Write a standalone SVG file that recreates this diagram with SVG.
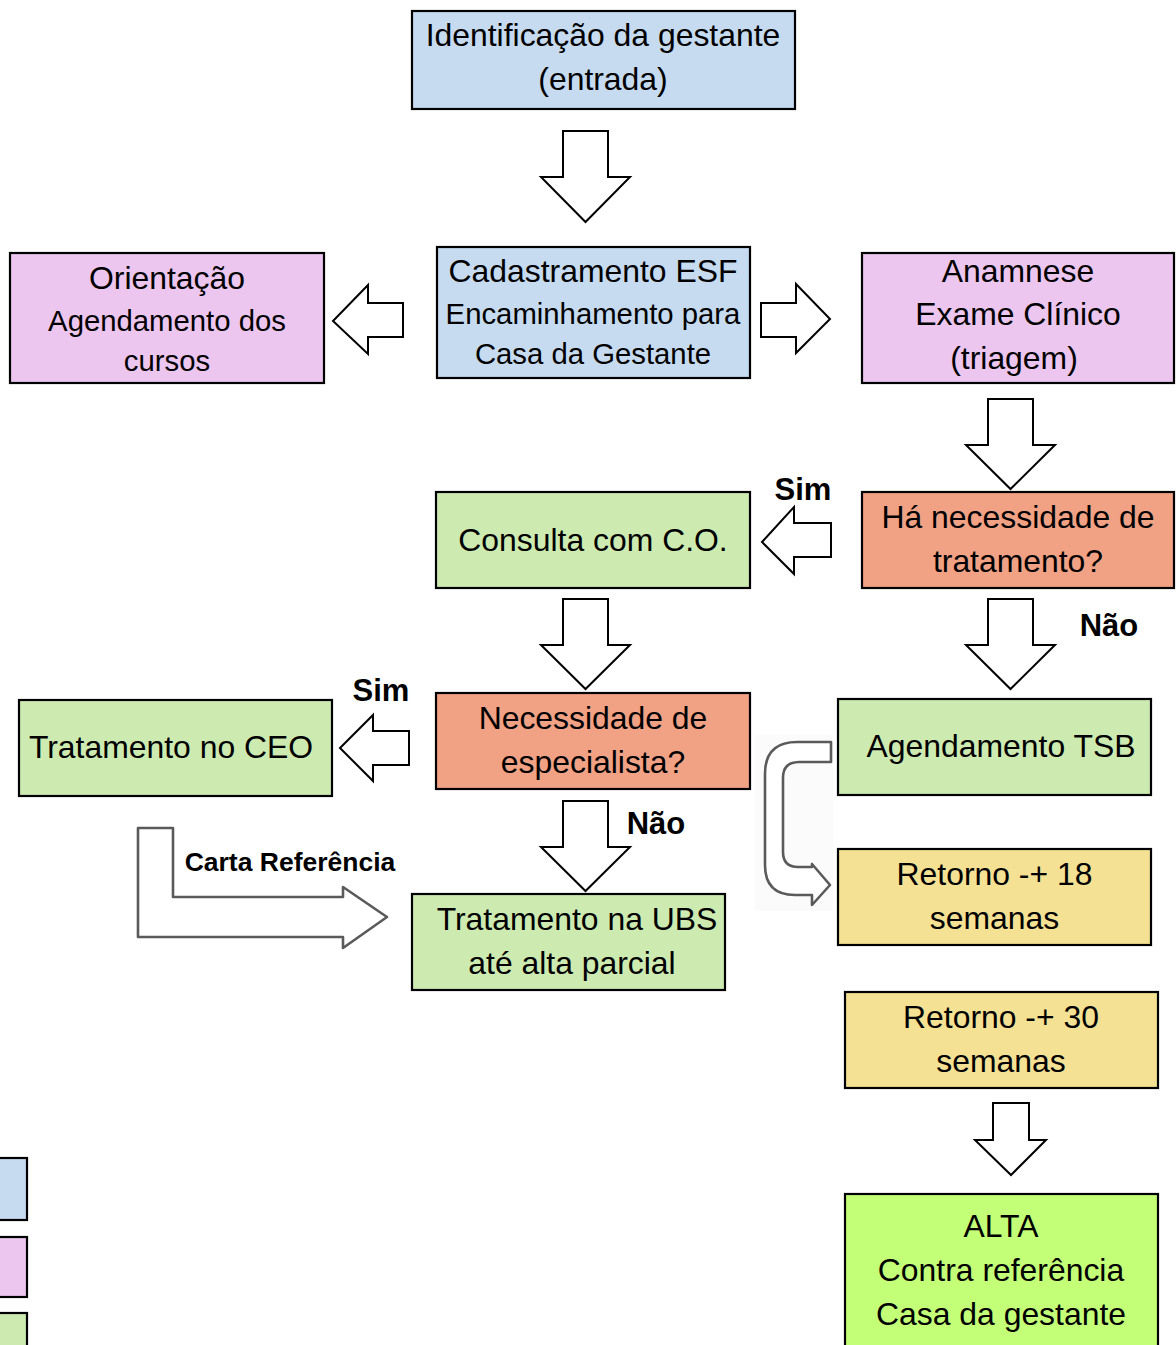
<svg xmlns="http://www.w3.org/2000/svg" width="1176" height="1345" viewBox="0 0 1176 1345">
<defs>
<style>
.box{stroke:#000;stroke-width:2.2}
.blue{fill:#c6dbf0}
.pink{fill:#ecc6ef}
.green{fill:#cdebb0}
.salmon{fill:#f1a184}
.yellow{fill:#f4e193}
.alta{fill:#c3ff77}
.arr{fill:#fff;stroke:#000;stroke-width:2;stroke-linejoin:miter}
.garr{fill:#fff;stroke:#5a5a5a;stroke-width:2.6;stroke-linejoin:round}
text{font-family:"Liberation Sans",Arial,sans-serif;fill:#000;text-anchor:middle}
.t{font-size:31.9px}
.s{font-size:29.3px}
.b{font-size:31px;font-weight:bold}
.c{font-size:26.5px;font-weight:bold}
</style>
<filter id="blur" x="-10%" y="-10%" width="120%" height="120%"><feGaussianBlur stdDeviation="0.7"/></filter>
</defs>

<g id="connectors">
<path class="arr" d="M563,131 L608,131 L608,177 L630,177 L585.5,222 L541,177 L563,177 Z"/>
<path class="arr" d="M403,303 L403,337 L368,337 L368,354 L333,321 L368,285 L368,303 Z"/>
<path class="arr" d="M761,303 L796,303 L796,284 L830,319 L796,353 L796,337 L761,337 Z"/>
<path class="arr" d="M988,399 L1033,399 L1033,445 L1055,445 L1010.5,489 L966,445 L988,445 Z"/>
<path class="arr" d="M831,523 L831,557 L794,557 L794,574 L762,542 L794,507 L794,523 Z"/>
<path class="arr" d="M563,599 L608,599 L608,645 L630,645 L585.5,689 L541,645 L563,645 Z"/>
<path class="arr" d="M988,599 L1033,599 L1033,645 L1055,645 L1010.5,689 L966,645 L988,645 Z"/>
<path class="arr" d="M409,731 L409,765 L373,765 L373,781 L340,748 L373,715 L373,731 Z"/>
<path class="arr" d="M563,801 L608,801 L608,847 L630,847 L585.5,891 L541,847 L563,847 Z"/>
<path class="arr" d="M993,1103 L1029,1103 L1029,1140 L1046,1140 L1011,1175 L975,1140 L993,1140 Z"/>
<rect x="755" y="735" width="78" height="176" fill="#fbfbfb"/>
<path class="garr" filter="url(#blur)" d="M831,742 L797,742 Q765,742 765,774 L765,865 Q765,895 795,895 L812,895 L812,905 L830,885 L812,864 L812,867 L798,867 Q783,867 783,852 L783,778 Q783,762 799,762 L831,762 Z"/>
<path class="garr" filter="url(#blur)" d="M138,828 L173,828 L173,897 L343,897 L343,887 L387,917 L343,948 L343,937 L138,937 Z"/>
<text class="c" x="290" y="871">Carta Referência</text>
<text class="b" x="803" y="500">Sim</text>
<text class="b" x="1109" y="636">Não</text>
<text class="b" x="381" y="701">Sim</text>
<text class="b" x="656" y="834">Não</text>
</g>

<g id="n1"><rect class="box blue" x="412" y="11" width="383" height="98"/>
<text class="t" x="603" y="46">Identificação da gestante</text>
<text class="t" x="603" y="90">(entrada)</text></g>

<g id="n2"><rect class="box pink" x="10" y="253" width="314" height="130"/>
<text class="t" x="167" y="289">Orientação</text>
<text class="s" x="167" y="331">Agendamento dos</text>
<text class="s" x="167" y="371">cursos</text></g>

<g id="n3"><rect class="box blue" x="437" y="247" width="313" height="131"/>
<text class="t" x="593" y="282">Cadastramento ESF</text>
<text class="s" x="593" y="324">Encaminhamento para</text>
<text class="s" x="593" y="364">Casa da Gestante</text></g>

<g id="n4"><rect class="box pink" x="862" y="253" width="312" height="130"/>
<text class="t" x="1018" y="282">Anamnese</text>
<text class="t" x="1018" y="325">Exame Clínico</text>
<text class="t" x="1014" y="369">(triagem)</text></g>

<g id="n5"><rect class="box salmon" x="862" y="492" width="312" height="96"/>
<text class="t" x="1018" y="528">Há necessidade de</text>
<text class="t" x="1018" y="572">tratamento?</text></g>

<g id="n6"><rect class="box green" x="436" y="492" width="314" height="96"/>
<text class="t" x="593" y="551">Consulta com C.O.</text></g>

<g id="n7"><rect class="box salmon" x="436" y="693" width="314" height="96"/>
<text class="t" x="593" y="729">Necessidade de</text>
<text class="t" x="593" y="773">especialista?</text></g>

<g id="n8"><rect class="box green" x="19" y="700" width="313" height="96"/>
<text class="t" x="171" y="758">Tratamento no CEO</text></g>

<g id="n9"><rect class="box green" x="838" y="699" width="313" height="96"/>
<text class="t" x="1001" y="757">Agendamento TSB</text></g>

<g id="n10"><rect class="box yellow" x="838" y="849" width="313" height="96"/>
<text class="t" x="994.5" y="885">Retorno -+ 18</text>
<text class="t" x="994.5" y="929">semanas</text></g>

<g id="n11"><rect class="box green" x="412" y="894" width="313" height="96"/>
<text class="t" x="577" y="930">Tratamento na UBS</text>
<text class="t" x="572" y="974">até alta parcial</text></g>

<g id="n12"><rect class="box yellow" x="845" y="992" width="313" height="96"/>
<text class="t" x="1001" y="1028">Retorno -+ 30</text>
<text class="t" x="1001" y="1072">semanas</text></g>

<g id="n13"><rect class="box alta" x="845" y="1194" width="313" height="170"/>
<text class="t" x="1001" y="1237">ALTA</text>
<text class="t" x="1001" y="1281">Contra referência</text>
<text class="t" x="1001" y="1325">Casa da gestante</text></g>

<g id="legend">
<rect class="box blue" x="-5" y="1158" width="32" height="62"/>
<rect class="box pink" x="-5" y="1237" width="32" height="60"/>
<rect class="box green" x="-5" y="1313" width="32" height="50"/>
</g>
</svg>
